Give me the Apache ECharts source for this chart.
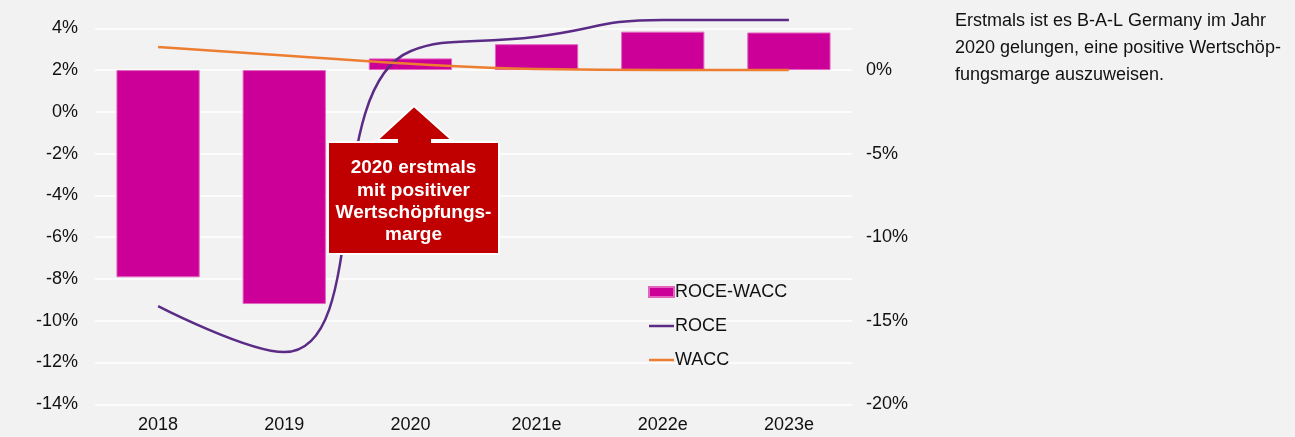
<!DOCTYPE html>
<html>
<head>
<meta charset="utf-8">
<script src="https://cdn.jsdelivr.net/npm/echarts@6/dist/echarts.min.js"></script>
<style>
  html, body { margin: 0; padding: 0; background: #F2F2F2; }
  #main { width: 1295px; height: 437px; }
</style>
</head>
<body>
<div id="main"></div>
<script>
// Daten
var years = ['2018', '2019', '2020', '2021e', '2022e', '2023e'];
var spread = [-12.4, -14.0, 0.7, 1.55, 2.3, 2.25];   // ROCE-WACC, rechte Achse
var roce = [-9.3, -11.5, 2.9, 3.6, 4.4, 4.4];        // linke Achse
var wacc = [3.1, 2.7, 2.3, 2.05, 2.0, 2.0];          // linke Achse
var calloutLines = ['2020 erstmals', 'mit positiver', 'Wertschöpfungs-', 'marge'];
var noteLines = ['Erstmals ist es B-A-L Germany im Jahr', '2020 gelungen, eine positive Wertschöp-', 'fungsmarge auszuweisen.'];

var font = 'Arial, "Liberation Sans", sans-serif';
// flacher Strich als Legendensymbol für die Linien
var lineIcon = 'path://M0,0 H25 V2.5 H0 Z';
var myChart = echarts.init(document.getElementById('main'));

myChart.setOption({
  backgroundColor: '#F2F2F2',
  animation: false,
  textStyle: { fontFamily: font },
  grid: { left: 95, right: 443, top: 28.3, bottom: 32.7 },
  legend: {
    orient: 'vertical',
    left: 643,
    top: 278,
    itemWidth: 25,
    itemHeight: 10,
    itemGap: 16,
    symbolKeepAspect: true,
    textStyle: { fontSize: 18, color: '#111', fontFamily: font, padding: [0, 0, 0, -4] },
    data: [
      { name: 'ROCE-WACC', icon: 'rect' },
      { name: 'ROCE', icon: lineIcon },
      { name: 'WACC', icon: lineIcon }
    ]
  },
  xAxis: {
    type: 'category',
    data: years,
    axisLine: { show: false },
    axisTick: { show: false },
    axisLabel: { fontSize: 18, color: '#111', margin: 12 }
  },
  yAxis: [{
    type: 'value',
    min: -14, max: 4, interval: 2,
    axisLine: { show: false },
    axisTick: { show: false },
    axisLabel: { fontSize: 18, color: '#111', margin: 17, formatter: '{value}%' },
    splitLine: { lineStyle: { color: '#FFFFFF', width: 1.5 } }
  }, {
    type: 'value',
    min: -20, max: 2.5, interval: 5,
    axisLine: { show: false },
    axisTick: { show: false },
    axisLabel: { fontSize: 18, color: '#111', margin: 14, showMaxLabel: false, formatter: '{value}%' },
    splitLine: { show: false }
  }],
  series: [{
    name: 'ROCE-WACC',
    type: 'bar',
    yAxisIndex: 1,
    barWidth: '66%',
    data: spread,
    itemStyle: { color: '#CC0099', borderColor: '#E266BE', borderWidth: 1 }
  }, {
    name: 'ROCE',
    type: 'line',
    yAxisIndex: 0,
    smooth: 0.5,
    clip: false,
    symbol: 'none',
    data: roce,
    lineStyle: { color: '#5B2C86', width: 2.5 },
    itemStyle: { color: '#5B2C86' }
  }, {
    name: 'WACC',
    type: 'line',
    yAxisIndex: 0,
    smooth: 0.5,
    clip: false,
    symbol: 'none',
    data: wacc,
    lineStyle: { color: '#ED7D31', width: 2.5 },
    itemStyle: { color: '#ED7D31' }
  }],
  graphic: [{
    type: 'polygon',
    z: 100,
    shape: {
      points: [[328, 142], [397, 142], [397, 140], [377, 140], [414, 106], [452, 140],
               [432, 140], [432, 142], [499, 142], [499, 254], [328, 254]]
    },
    style: { fill: '#C00000', stroke: '#FFFFFF', lineWidth: 2 }
  }, {
    type: 'text',
    z: 101,
    x: 413.5,
    y: 157,
    style: {
      text: calloutLines.join('\n'),
      fill: '#FFFFFF',
      font: 'bold 19px ' + font,
      lineHeight: 22.3,
      align: 'center',
      verticalAlign: 'top'
    }
  }, {
    type: 'text',
    x: 955,
    y: 8,
    style: {
      text: noteLines.join('\n'),
      fill: '#111',
      font: '18px ' + font,
      lineHeight: 27,
      align: 'left',
      verticalAlign: 'top'
    }
  }]
});
</script>
</body>
</html>
